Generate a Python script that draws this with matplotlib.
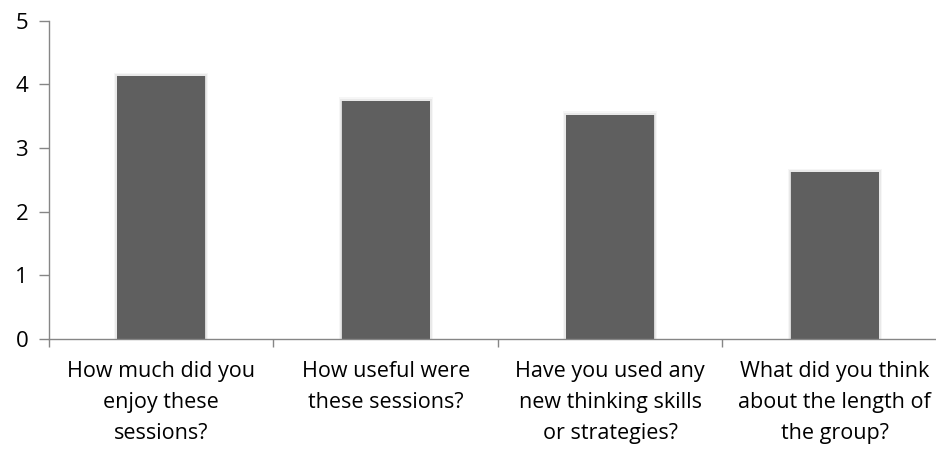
import numpy as np
import matplotlib.pyplot as plt

questions = [
    "How much did you\nenjoy these\nsessions?",
    "How useful were\nthese sessions?",
    "Have you used any\nnew thinking skills\nor strategies?",
    "What did you think\nabout the length of\nthe group?",
]
scores = [4.13, 3.74, 3.52, 2.62]
y_ticks = [0, 1, 2, 3, 4, 5]

plt.rcParams['font.family'] = ['Open Sans', 'DejaVu Sans']

fig = plt.figure(figsize=(9.37, 4.53), dpi=100)
ax = fig.add_axes([49 / 937, 0.2523, 898 / 937, 0.702])

x = np.arange(len(scores))
# soft shadow behind each bar
for grow, alpha in [(0.030, 0.10), (0.018, 0.18), (0.008, 0.30)]:
    ax.bar(x, np.array(scores) + grow * 2.5, width=0.39 + grow, bottom=-0.02,
           color='#b0b0b0', alpha=alpha, linewidth=0, zorder=1)
ax.bar(x, scores, width=0.39, color='#5f5f5f', linewidth=0, zorder=2)

ax.set_xlim(-0.5, len(scores) - 0.5)
ax.set_ylim(0, 5)
ax.set_yticks(y_ticks)
ax.set_yticklabels([str(v) for v in y_ticks], fontsize=16)

ax.set_xticks(x)
ax.set_xticklabels(questions, fontsize=15.5, linespacing=1.62, va='top')
ax.tick_params(axis='x', length=0, pad=16)
ax.set_xticks(np.arange(len(scores) + 1) - 0.5, minor=True)
ax.tick_params(axis='x', which='minor', length=6, color='#868686', width=1)
ax.tick_params(axis='y', length=7, color='#868686', width=1, pad=8)

for side in ['top', 'right']:
    ax.spines[side].set_visible(False)
for side in ['left', 'bottom']:
    ax.spines[side].set_color('#868686')
    ax.spines[side].set_linewidth(1)

fig.savefig('out.png', dpi=100)
